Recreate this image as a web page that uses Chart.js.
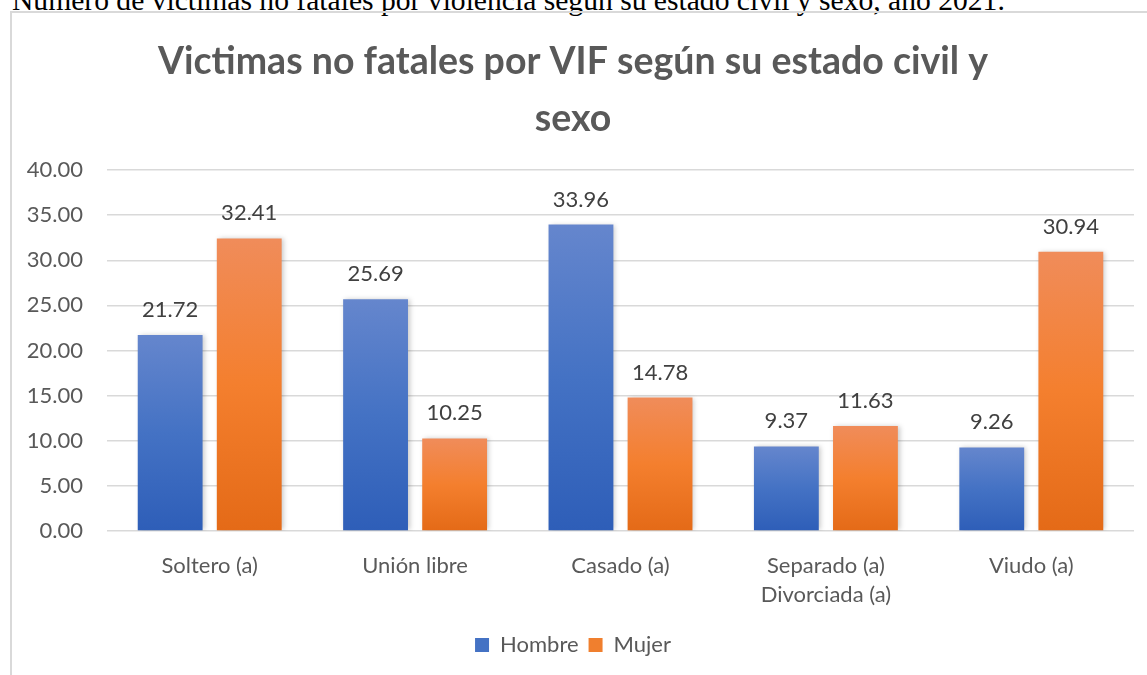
<!DOCTYPE html>
<html lang="es">
<head>
<meta charset="utf-8">
<title>Victimas no fatales por VIF</title>
<script src="https://cdn.jsdelivr.net/npm/chart.js@4.4.1/dist/chart.umd.min.js"></script>
<style>
  html, body { margin: 0; padding: 0; background: #fff; overflow: hidden; }
  body { width: 1147px; height: 675px; position: relative; }
  #caption {
    position: absolute; left: 12px; top: -15px;
    font-family: "Liberation Serif", "Times New Roman", serif;
    font-size: 29.6px; line-height: 30px; color: #000; white-space: nowrap;
  }
  #box {
    position: absolute; left: 10px; top: 11px; width: 1150px; height: 700px;
    border-left: 2px solid #d9d9d9; border-top: 2px solid #d9d9d9;
  }
  #wrap { position: absolute; left: 0; top: 0; width: 1141px; height: 662px; }
</style>
</head>
<body>
<div id="caption">Número de víctimas no fatales por violencia según su estado civil y sexo, año 2021.</div>
<div id="box">
  <div id="wrap"><canvas id="chart"></canvas></div>
</div>
<script>
// datos
const categorias = ['Soltero (a)', 'Unión libre', 'Casado (a)', ['Separado (a)', 'Divorciada (a)'], 'Viudo (a)'];
const hombre = [21.72, 25.69, 33.96, 9.37, 9.26];
const mujer = [32.41, 10.25, 14.78, 11.63, 30.94];
const yTicks = [0, 5, 10, 15, 20, 25, 30, 35, 40];

const FONT = 'Lato, "Open Sans", sans-serif';

// degradado por barra (claro arriba, oscuro abajo)
function barGradient(top, mid, bottom) {
  return (context) => {
    const chart = context.chart;
    if (!chart.chartArea || context.type !== 'data') return mid;
    const y = chart.scales.y;
    const yTop = y.getPixelForValue(context.raw);
    const yBot = y.getPixelForValue(0);
    if (!isFinite(yTop) || yBot - yTop < 1) return mid;
    const g = chart.ctx.createLinearGradient(0, yTop, 0, yBot);
    g.addColorStop(0, top);
    g.addColorStop(0.5, mid);
    g.addColorStop(1, bottom);
    return g;
  };
}

// sombra suave de las barras
const barShadow = {
  id: 'barShadow',
  beforeDatasetsDraw(chart) {
    const c = chart.ctx;
    c.save();
    c.shadowColor = 'rgba(0,0,0,0.22)';
    c.shadowBlur = 5;
    c.shadowOffsetX = 2;
    c.shadowOffsetY = 0;
  },
  afterDatasetsDraw(chart) {
    chart.ctx.restore();
  }
};

// etiquetas de valor sobre cada barra
const valueLabels = {
  id: 'valueLabels',
  afterDatasetsDraw(chart) {
    const c = chart.ctx;
    c.save();
    c.font = '22px ' + FONT;
    c.fillStyle = '#404040';
    c.textAlign = 'center';
    c.textBaseline = 'alphabetic';
    chart.data.datasets.forEach((ds, i) => {
      const meta = chart.getDatasetMeta(i);
      meta.data.forEach((bar, j) => {
        c.fillText(ds.data[j].toFixed(2), bar.x, bar.y - 18);
      });
    });
    c.restore();
  }
};

new Chart(document.getElementById('chart'), {
  type: 'bar',
  data: {
    labels: categorias,
    datasets: [
      {
        label: 'Hombre',
        data: hombre,
        backgroundColor: barGradient('#6586cd', '#4472c4', '#2e5eb8'),
        categoryPercentage: 0.77,
        barPercentage: 0.82
      },
      {
        label: 'Mujer',
        data: mujer,
        backgroundColor: barGradient('#f08c5a', '#f47f2e', '#e46a17'),
        categoryPercentage: 0.77,
        barPercentage: 0.82
      }
    ]
  },
  options: {
    responsive: true,
    maintainAspectRatio: false,
    animation: false,
    layout: { padding: { left: 0, right: 19, top: 0, bottom: 9 } },
    scales: {
      x: {
        grid: { display: false },
        border: { display: false },
        ticks: {
          color: '#595959',
          font: { family: FONT, size: 22, lineHeight: 29 / 22 },
          padding: 12,
          maxRotation: 0,
          autoSkip: false
        },
        afterFit(scale) { scale.height = 93; }
      },
      y: {
        min: 0,
        max: 40,
        afterBuildTicks(scale) { scale.ticks = yTicks.map(v => ({ value: v })); },
        grid: { color: '#d9d9d9', lineWidth: 1.5, drawTicks: false },
        border: { display: false },
        ticks: {
          color: '#595959',
          font: { family: FONT, size: 22 },
          padding: 24,
          callback: (v) => Number(v).toFixed(2)
        },
        afterFit(scale) { scale.width = 95; }
      }
    },
    plugins: {
      title: {
        display: true,
        text: ['Victimas no fatales por VIF según su estado civil y', 'sexo'],
        color: '#595959',
        font: { family: FONT, size: 37.5, weight: 'bold', lineHeight: 57 / 37.5 },
        padding: { top: 20, bottom: 23 }
      },
      legend: {
        position: 'bottom',
        labels: {
          color: '#595959',
          font: { family: FONT, size: 22 },
          boxWidth: 14,
          boxHeight: 14,
          padding: 10,
          generateLabels(chart) {
            const cols = ['#4472c4', '#f07f2e'];
            return chart.data.datasets.map((ds, i) => ({
              text: ds.label,
              fillStyle: cols[i],
              strokeStyle: cols[i],
              lineWidth: 0,
              fontColor: '#595959',
              datasetIndex: i,
              hidden: false
            }));
          }
        }
      },
      tooltip: { enabled: false }
    }
  },
  plugins: [barShadow, valueLabels]
});
</script>
</body>
</html>
